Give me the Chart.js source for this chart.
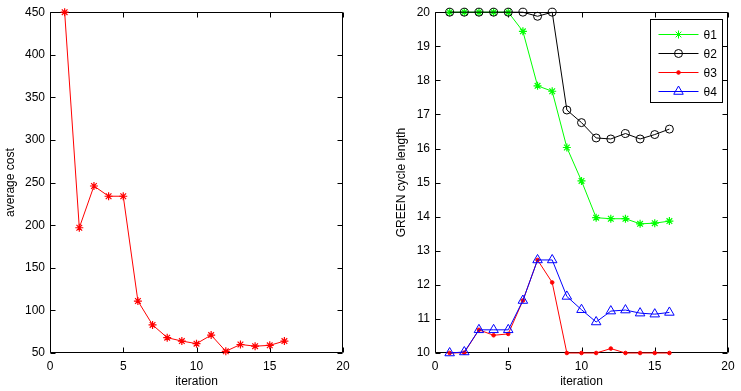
<!DOCTYPE html>
<html>
<head>
<meta charset="utf-8">
<script src="https://cdn.jsdelivr.net/npm/chart.js@4.4.0/dist/chart.umd.min.js"></script>
<style>
  body { margin: 0; background: #fff; }
  #costChart { position: absolute; left: 0; top: 0; }
  #greenChart { position: absolute; left: 370px; top: 0; }
</style>
</head>
<body>
<canvas id="costChart" width="370" height="391"></canvas>
<canvas id="greenChart" width="371" height="391"></canvas>
<script>
const iterations = [1, 2, 3, 4, 5, 6, 7, 8, 9, 10, 11, 12, 13, 14, 15, 16];
const averageCost = [450, 197, 246, 234, 234, 111, 83, 68, 64, 61, 71, 52, 60, 58, 59, 64];

const theta1 = [20, 20, 20, 20, 20, 19.44, 17.84, 17.68, 16.03, 15.05, 13.97, 13.94, 13.94, 13.79, 13.81, 13.87];
const theta2 = [20, 20, 20, 20, 20, 20, 19.88, 20, 17.13, 16.76, 16.31, 16.28, 16.44, 16.28, 16.41, 16.57];
const theta3 = [10, 10.01, 10.68, 10.52, 10.56, 11.54, 12.73, 12.07, 10, 10, 10, 10.13, 10, 10, 10, 10];
const theta4 = [10, 10.03, 10.68, 10.68, 10.68, 11.54, 12.73, 12.73, 11.66, 11.27, 10.91, 11.23, 11.26, 11.17, 11.14, 11.19];

const xTicks = [0, 5, 10, 15, 20];
const costTicks = [50, 100, 150, 200, 250, 300, 350, 400, 450];
const greenTicks = [10, 11, 12, 13, 14, 15, 16, 17, 18, 19, 20];

Chart.defaults.font.family = "'Liberation Sans', Arial, sans-serif";
Chart.defaults.font.size = 12;
Chart.defaults.color = '#000';

const pts = ys => iterations.map((x, i) => ({x: x, y: ys[i]}));

// matlab style box with inward ticks on all four sides
const boxTicks = {
  id: 'boxTicks',
  beforeDatasetsDraw(chart) {
    const {ctx, chartArea: a, scales} = chart;
    const L = Math.round(a.left) + 0.5, R = Math.round(a.right) - 0.5;
    const T = Math.round(a.top) + 0.5, B = Math.round(a.bottom) - 0.5;
    ctx.save();
    ctx.strokeStyle = '#000';
    ctx.lineWidth = 1;
    ctx.beginPath();
    ctx.rect(L, T, R - L, B - T);
    scales.x.ticks.forEach(t => {
      const px = Math.round(scales.x.getPixelForValue(t.value)) + 0.5;
      ctx.moveTo(px, B); ctx.lineTo(px, B - 5);
      ctx.moveTo(px, T); ctx.lineTo(px, T + 5);
    });
    scales.y.ticks.forEach(t => {
      const py = Math.round(scales.y.getPixelForValue(t.value)) + 0.5;
      ctx.moveTo(L, py); ctx.lineTo(L + 5, py);
      ctx.moveTo(R, py); ctx.lineTo(R - 5, py);
    });
    ctx.stroke();
    ctx.restore();
  }
};

const boxLegend = {
  id: 'boxLegend',
  afterDraw(chart) {
    const ctx = chart.ctx;
    const a = chart.chartArea;
    const x0 = Math.round(a.right) - 78 + 0.5, y0 = Math.round(a.top) + 7 + 0.5;
    ctx.save();
    ctx.fillStyle = '#fff';
    ctx.fillRect(x0, y0, 72, 83);
    ctx.strokeStyle = '#000';
    ctx.lineWidth = 1;
    ctx.strokeRect(x0, y0, 72, 83);
    ctx.font = "12px 'Liberation Sans', Arial, sans-serif";
    ctx.textBaseline = 'middle';
    chart.data.datasets.forEach((ds, i) => {
      const y = Math.round(y0 + 14 + i * 19.3) + 0.5;
      ctx.strokeStyle = ds.borderColor;
      ctx.lineWidth = 1;
      ctx.beginPath();
      ctx.moveTo(x0 + 8, y);
      ctx.lineTo(x0 + 48, y);
      ctx.stroke();
      ctx.fillStyle = ds.pointBackgroundColor;
      ctx.strokeStyle = ds.borderColor;
      Chart.helpers.drawPoint(ctx, {pointStyle: ds.pointStyle, radius: ds.pointRadius, rotation: 0, borderWidth: 1}, x0 + 28, y);
      ctx.fillStyle = '#000';
      ctx.fillText(ds.label, x0 + 53, y + 1);
    });
    ctx.restore();
  }
};

function axes(yTicks, yTitle, yWidth, titlePad) {
  return {
    x: {
      type: 'linear', min: 0, max: 20,
      afterBuildTicks: s => { s.ticks = xTicks.map(v => ({value: v})); },
      afterFit: s => { s.height = 38; },
      grid: {display: false, drawTicks: false},
      border: {display: false},
      ticks: {padding: 6, maxRotation: 0},
      title: {display: true, text: 'iteration', padding: {top: 0, bottom: 2}}
    },
    y: {
      type: 'linear', min: yTicks[0], max: yTicks[yTicks.length - 1],
      afterBuildTicks: s => { s.ticks = yTicks.map(v => ({value: v})); },
      afterFit: s => { s.width = yWidth; },
      grid: {display: false, drawTicks: false},
      border: {display: false},
      ticks: {padding: 5},
      title: {display: true, text: yTitle, padding: {top: titlePad, bottom: 0}}
    }
  };
}

new Chart(document.getElementById('costChart'), {
  type: 'line',
  data: {
    datasets: [{
      label: 'average cost',
      data: pts(averageCost),
      borderColor: '#ff0000',
      pointBackgroundColor: '#ff0000',
      pointBorderColor: '#ff0000',
      borderWidth: 1,
      pointStyle: 'star',
      pointRadius: 4,
      pointBorderWidth: 1.2,
      tension: 0,
      clip: false
    }]
  },
  options: {
    responsive: false,
    animation: false,
    layout: {padding: {top: 11, right: 27, left: 0, bottom: 0}},
    plugins: {legend: {display: false}, tooltip: {enabled: false}},
    scales: axes(costTicks, 'average cost', 50, 3)
  },
  plugins: [boxTicks]
});

new Chart(document.getElementById('greenChart'), {
  type: 'line',
  data: {
    datasets: [
      {label: 'θ1', data: pts(theta1), borderColor: '#00ff00', pointBackgroundColor: '#00ff00', pointBorderColor: '#00ff00',
       pointStyle: 'star', pointRadius: 4, pointBorderWidth: 1.2, borderWidth: 1, order: 3, clip: false},
      {label: 'θ2', data: pts(theta2), borderColor: '#000000', pointBackgroundColor: 'rgba(0,0,0,0)', pointBorderColor: '#000000',
       pointStyle: 'circle', pointRadius: 4, pointBorderWidth: 1, borderWidth: 1, order: 2, clip: false},
      {label: 'θ3', data: pts(theta3), borderColor: '#ff0000', pointBackgroundColor: '#ff0000', pointBorderColor: '#ff0000',
       pointStyle: 'circle', pointRadius: 1.8, pointBorderWidth: 1, borderWidth: 1, order: 1, clip: false},
      {label: 'θ4', data: pts(theta4), borderColor: '#0000ff', pointBackgroundColor: 'rgba(0,0,0,0)', pointBorderColor: '#0000ff',
       pointStyle: 'triangle', pointRadius: 5.5, pointBorderWidth: 1, borderWidth: 1, order: 0, clip: false}
    ]
  },
  options: {
    responsive: false,
    animation: false,
    layout: {padding: {top: 11, right: 13, left: 0, bottom: 0}},
    plugins: {legend: {display: false}, tooltip: {enabled: false}},
    scales: axes(greenTicks, 'GREEN cycle length', 65, 24)
  },
  plugins: [boxTicks, boxLegend]
});
</script>
</body>
</html>
